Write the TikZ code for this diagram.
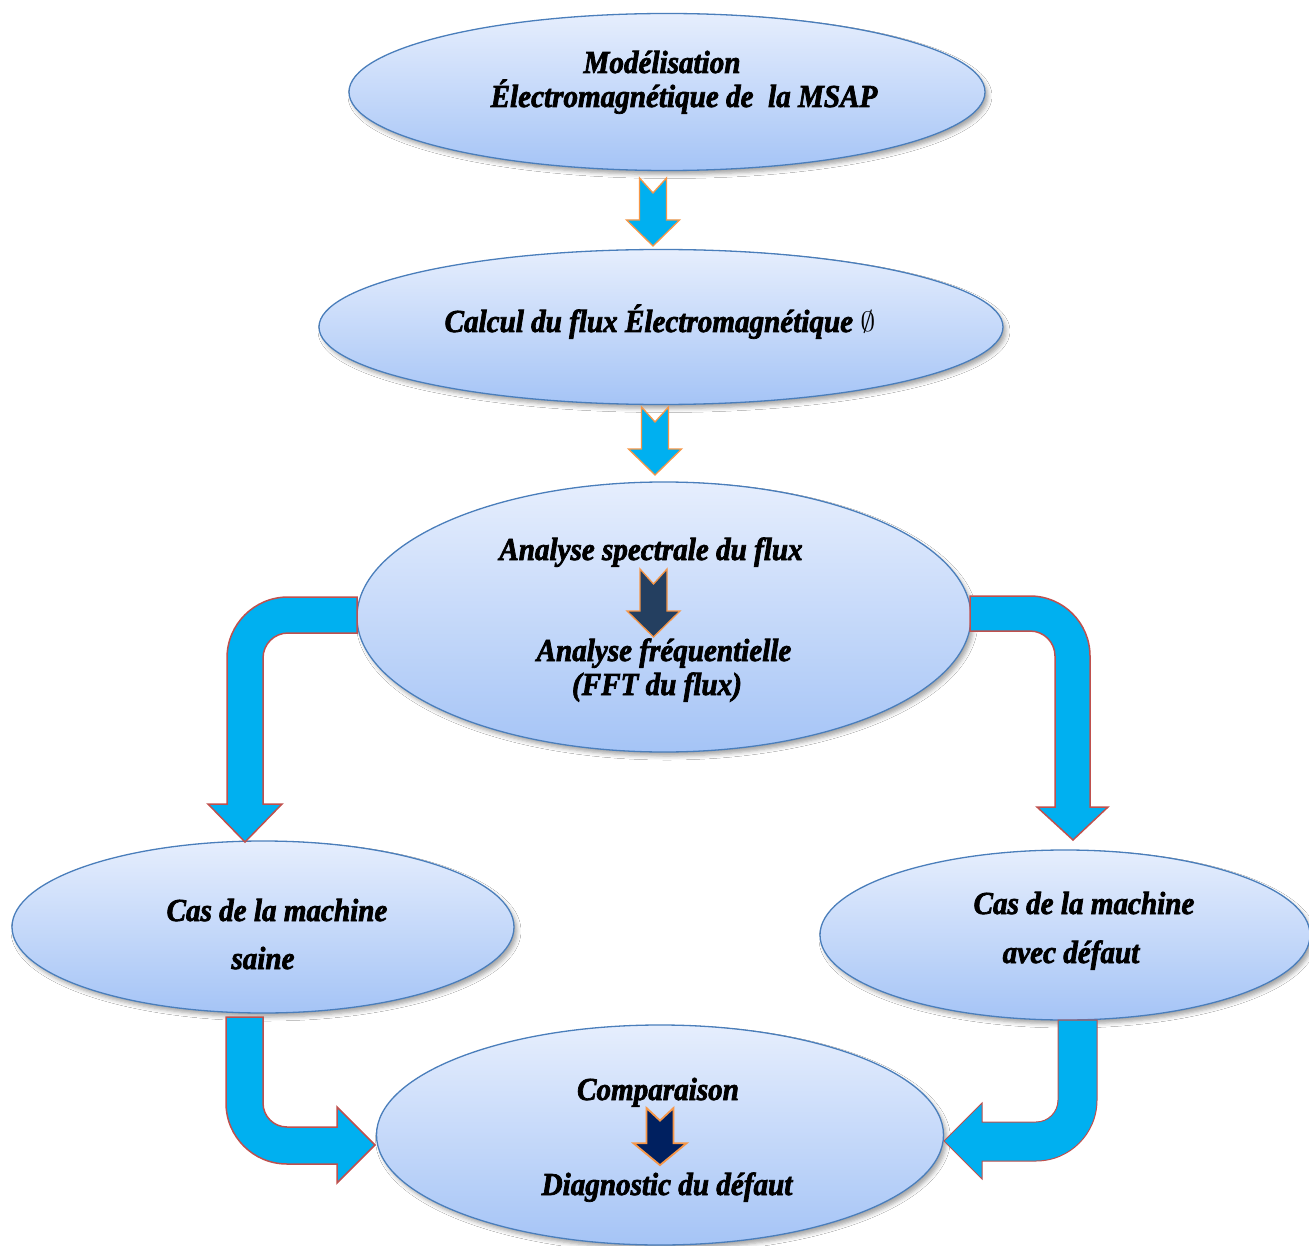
\documentclass[tikz,border=0pt]{standalone}
\usepackage{graphicx}
\usepackage{fontspec}
\setmainfont{Liberation Serif}[FakeStretch=0.91, BoldItalicFeatures={FakeBold=2.2}]
\usetikzlibrary{shapes.geometric,shadows.blur}

\definecolor{ovaltop}{RGB}{230,238,253}
\definecolor{ovalbot}{RGB}{165,196,246}
\definecolor{ovalline}{RGB}{74,126,187}
\definecolor{arrowfill}{RGB}{0,176,240}
\definecolor{bentline}{RGB}{192,80,77}
\definecolor{straightline}{RGB}{247,150,70}
\definecolor{darkslate}{RGB}{36,63,96}
\definecolor{darknavy}{RGB}{0,32,96}

\tikzset{
  oval/.style={ellipse, draw=ovalline, line width=1.3pt, inner sep=0pt,
    top color=ovaltop, bottom color=ovalbot,
    blur shadow={shadow xshift=3pt, shadow yshift=-4pt,
                 shadow blur radius=4pt, shadow opacity=35}},
  label/.style={anchor=base, inner sep=0pt,
    font=\fontsize{32}{36}\selectfont\bfseries\itshape},
  bentarrow/.style={fill=arrowfill, draw=bentline, line width=1.5pt, line join=miter},
  pics/notched/.style={code={
    \path[pic actions] (-13.5,0) -- (0,15) -- (13.5,0) -- (13.5,42)
      -- (26.5,42) -- (0,68) -- (-26.5,42) -- (-13.5,42) -- cycle;}}
}

\begin{document}
\begin{tikzpicture}[x=1pt,y=-1pt]
\useasboundingbox (0,0) rectangle (1309,1246);
\fill[white] (0,0) rectangle (1309,1246);

% process ovals
\node[oval, minimum width=636pt, minimum height=157pt] (model) at (667,92) {};
\node[oval, minimum width=684pt, minimum height=155pt] (calcul) at (661,327) {};
\node[oval, minimum width=614pt, minimum height=270pt] (analyse) at (664,617) {};
\node[oval, minimum width=502pt, minimum height=172pt] (saine) at (263,927) {};
\node[oval, minimum width=490pt, minimum height=170pt] (defaut) at (1065,935) {};
\node[oval, minimum width=567pt, minimum height=220pt] (compar) at (660,1135) {};

% straight block arrows between the upper ovals
\pic[fill=arrowfill, draw=straightline, line width=1.3pt] (a1) at (653,178) {notched};
\pic[fill=arrowfill, draw=straightline, line width=1.3pt] (a2) at (655,407) {notched};

% inner arrows
\pic[fill=darkslate, draw=straightline, line width=1.3pt] (a3) at (653.5,569) {notched};
\pic[fill=darknavy, draw=straightline, line width=1.8pt, yscale=0.84] (a4) at (660,1108) {notched};

% bent arrow: analysis -> healthy case
\path[bentarrow] (357,597) -- (288,597)
  .. controls (254.3,597) and (227,624.3) .. (227,658)
  -- (227,804) -- (208,804) -- (245,842) -- (282,804) -- (263,804)
  -- (263,658) .. controls (263,644.2) and (274.2,633) .. (288,633)
  -- (357,633) -- cycle;

% bent arrow: analysis -> faulty case
\path[bentarrow] (970,596) -- (1030,596)
  .. controls (1063.1,596) and (1090,622.9) .. (1090,656)
  -- (1090,807) -- (1108,807) -- (1073,840) -- (1037,807) -- (1055,807)
  -- (1055,656) .. controls (1055,642.2) and (1043.8,631) .. (1030,631)
  -- (970,631) -- cycle;

% bent arrow: healthy case -> comparison
\path[bentarrow] (226,1017) -- (263,1017) -- (263,1103)
  .. controls (263,1116.3) and (273.7,1127) .. (287,1127)
  -- (337,1127) -- (337,1107) -- (375,1145) -- (337,1183) -- (337,1164)
  -- (287,1164) .. controls (253.3,1164) and (226,1136.7) .. (226,1103)
  -- cycle;

% bent arrow: faulty case -> comparison
\path[bentarrow, line width=1pt] (1058,1020) -- (1097,1020) -- (1097,1100)
  .. controls (1097,1133.7) and (1069.7,1161) .. (1036,1161)
  -- (982,1161) -- (982,1179) -- (944,1141) -- (982,1103) -- (982,1122)
  -- (1036,1122) .. controls (1048.2,1122) and (1058,1112.2) .. (1058,1100)
  -- cycle;

% labels
\node[label] (t1a) at (662,73) {Modélisation};
\node[label] (t1b) at (684,107) {Électromagnétique de\ \ la MSAP};
\node[label] (t2) at (660,332) {Calcul du flux Électromagnétique \resizebox{15pt}{21pt}{$\emptyset$}};
\node[label] (t3a) at (651,560) {Analyse spectrale du flux};
\node[label] (t3b) at (664,661) {Analyse fréquentielle};
\node[label] (t3c) at (657,695) {(FFT du flux)};
\node[label] (t4a) at (277,921) {Cas de la machine};
\node[label] (t4b) at (263,969) {saine};
\node[label] (t5a) at (1084,914) {Cas de la machine};
\node[label] (t5b) at (1071,963) {avec défaut};
\node[label] (t6a) at (658,1100) {Comparaison};
\node[label] (t6b) at (667,1195) {Diagnostic du défaut};
\end{tikzpicture}
\end{document}
